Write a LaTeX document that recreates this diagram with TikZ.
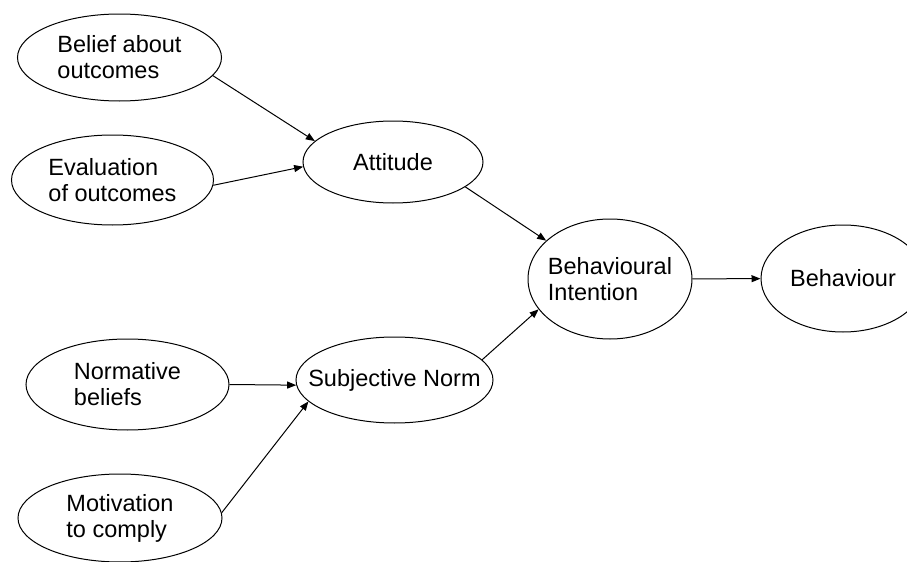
\documentclass[tikz,border=0pt]{standalone}
\usepackage{fontspec}
\setmainfont{Liberation Sans}
\usetikzlibrary{shapes.geometric}
\usetikzlibrary{arrows.meta}

\begin{document}
\begin{tikzpicture}[x=0.5pt, y=-0.5pt,
            factor/.style={ellipse, draw=black, line width=0.5pt, inner sep=-30pt,
            align=left, font=\fontsize{11.75}{13}\selectfont},
            link/.style={-{Triangle[length=4.5pt,width=3.5pt]}, line width=0.5pt}]
            \useasboundingbox (0,0) rectangle (907,562);
            % left column
            \node (belief) [factor, minimum width=102pt, minimum height=43.5pt] at (119.5,57.5) {Belief about\\outcomes};
            \node (eval) [factor, minimum width=101pt, minimum height=45pt] at (112.5,180) {Evaluation\\of outcomes};
            \node (norm) [factor, minimum width=101.5pt, minimum height=45.5pt] at (127.5,384.5) {Normative\\beliefs};
            \node (motiv) [factor, minimum width=102pt, minimum height=44pt] at (120,518) {Motivation\\to comply};
            % middle
            \node (att) [factor, minimum width=90pt, minimum height=41pt] at (393,162) {Attitude};
            \node (sn) [factor, minimum width=98.5pt, minimum height=43pt] at (394.5,380) {Subjective Norm};
            % right
            \node (bi) [factor, minimum width=82pt, minimum height=60pt] at (610,279) {Behavioural\\Intention};
            \node (beh) [factor, minimum width=82pt, minimum height=53.5pt] at (843,278.5) {Behaviour};

            \draw [link] (belief.-11) -- (att.165);
            \draw [link] (eval.-3) -- (att.183);
            \draw [link] (norm.east) -- (sn.183);
            \draw [link] (motiv.3) -- (sn.194);
            \draw [link] (att.-19) -- (bi.149);
            \draw [link] (sn.13) -- (bi.203);
            \draw [link] (bi) -- (beh);
        \end{tikzpicture}
\end{document}
